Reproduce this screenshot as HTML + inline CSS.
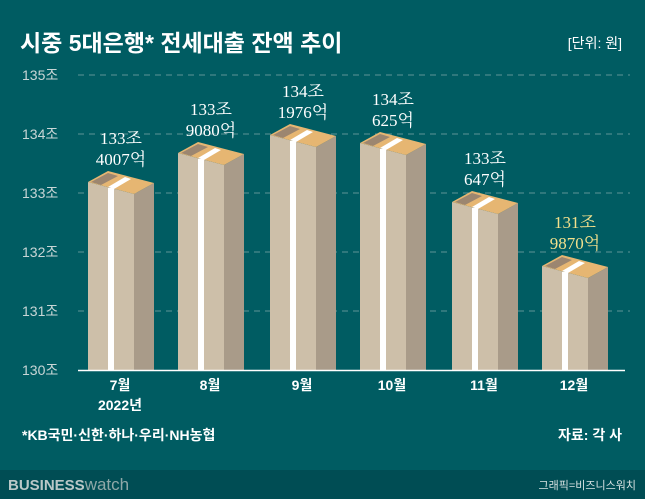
<!DOCTYPE html>
<html><head><meta charset="utf-8"><style>
body{margin:0;width:645px;height:499px;overflow:hidden;background:#005c62;}
svg{display:block}
.s{font-family:"Liberation Sans","Noto Sans CJK KR",sans-serif}
.r{font-family:"Liberation Serif","Noto Serif CJK SC",serif}
</style></head><body>
<svg width="645" height="499" viewBox="0 0 645 499">
<rect width="645" height="499" fill="#005c62"/>
<rect y="470" width="645" height="29" fill="#004d54"/>
<text x="20" y="51" class="s" font-size="23" font-weight="bold" fill="#fff">시중 5대은행* 전세대출 잔액 추이</text>
<text x="622" y="48" class="s" font-size="14" fill="#fff" text-anchor="end">[단위: 원]</text>
<g stroke="#5e9396" stroke-width="1" stroke-dasharray="6,5">
<line x1="78" y1="75" x2="630" y2="75"/><line x1="78" y1="134" x2="630" y2="134"/><line x1="78" y1="193" x2="630" y2="193"/><line x1="78" y1="252" x2="630" y2="252"/><line x1="78" y1="311" x2="630" y2="311"/>
</g>
<g class="s" font-size="14" fill="#c9d6d6">
<text x="22" y="80">135조</text><text x="22" y="139">134조</text><text x="22" y="198">133조</text><text x="22" y="257">132조</text><text x="22" y="316">131조</text><text x="22" y="375">130조</text>
</g>
<g id="bars"></g>
<line x1="78" y1="370.5" x2="625" y2="370.5" stroke="#fff" stroke-width="1.5"/>
<g class="s" font-size="14" font-weight="bold" fill="#fff" text-anchor="middle">
<text x="120" y="390">7월</text><text x="120" y="410">2022년</text>
<text x="210" y="390">8월</text><text x="302" y="390">9월</text><text x="392" y="390">10월</text><text x="484" y="390">11월</text><text x="574" y="390">12월</text>
</g>
<text x="22" y="440" class="s" font-size="14" font-weight="bold" fill="#fff">*KB국민·신한·하나·우리·NH농협</text>
<text x="622" y="440" class="s" font-size="14" font-weight="bold" fill="#fff" text-anchor="end">자료: 각 사</text>
<text x="8" y="490" class="s" font-size="15" font-weight="bold" fill="#b9c8c8">BUSINESS<tspan font-weight="normal" font-size="17" fill="#8fa8a8">watch</tspan></text>
<text x="636" y="489" class="s" font-size="11" fill="#d8e2e2" text-anchor="end">그래픽=비즈니스워치</text>
</svg>
<script>
var d=[[88,182,"133조","4007억"],[178,153,"133조","9080억"],[270,135,"134조","1976억"],[360,143,"134조","625억"],[452,202,"133조","647억"],[542,266,"131조","9870억"]];
var g=document.getElementById("bars"),h="";
d.forEach(function(b,i){var L=b[0],T=b[1];
h+='<polygon points="'+L+','+T+' '+(L+46)+','+(T+12)+' '+(L+46)+',370 '+L+',370" fill="#cdbfa9"/>';
h+='<polygon points="'+(L+46)+','+(T+12)+' '+(L+66)+','+(T+1)+' '+(L+66)+',370 '+(L+46)+',370" fill="#a99b89"/>';
h+='<polygon points="'+L+','+T+' '+(L+20)+','+(T-11)+' '+(L+66)+','+(T+1)+' '+(L+46)+','+(T+12)+'" fill="#e6b672"/>';
h+='<polygon points="'+(L+3)+','+T+' '+(L+20)+','+(T-9)+' '+(L+30)+','+(T-6)+' '+(L+13)+','+(T+3)+'" fill="#9c8670"/>';
h+='<polygon points="'+(L+20)+','+(T+5)+' '+(L+37)+','+(T-5)+' '+(L+43)+','+(T-3)+' '+(L+26)+','+(T+7)+'" fill="#fff"/>';
h+='<rect x="'+(L+20)+'" y="'+(T+6)+'" width="6" height="'+(364-T)+'" fill="#fff"/>';
var c=i==5?"#f3e08c":"#fff",x=L+33;
h+='<text x="'+x+'" y="'+(T-38)+'" class="r" font-size="17" fill="'+c+'" text-anchor="middle">'+b[2]+'</text>';
h+='<text x="'+x+'" y="'+(T-17)+'" class="r" font-size="17" fill="'+c+'" text-anchor="middle">'+b[3]+'</text>';
});
g.innerHTML=h;
</script>
</body></html>
